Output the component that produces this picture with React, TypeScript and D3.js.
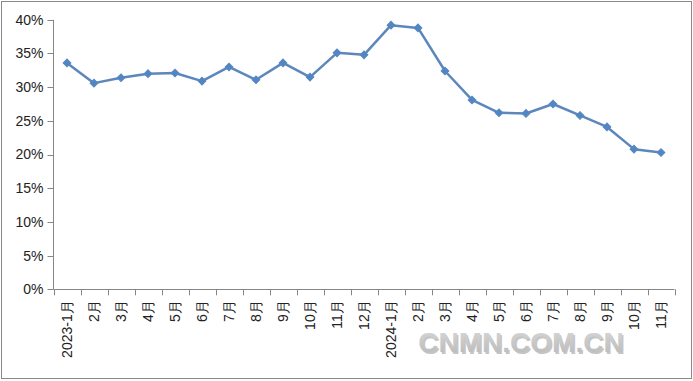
import React from "react";
import * as d3 from "d3";

const categories = [
  "2023-1月", "2月", "3月", "4月", "5月", "6月", "7月", "8月", "9月", "10月", "11月", "12月",
  "2024-1月", "2月", "3月", "4月", "5月", "6月", "7月", "8月", "9月", "10月", "11月",
];
const values = [
  33.6, 30.6, 31.4, 32.0, 32.1, 30.9, 33.0, 31.1, 33.6, 31.5, 35.1, 34.8,
  39.2, 38.8, 32.4, 28.1, 26.2, 26.1, 27.5, 25.8, 24.1, 20.8, 20.3,
];
const yTicks = [0, 5, 10, 15, 20, 25, 30, 35, 40];

const W = 693;
const H = 381;
const left = 53.5;
const right = 674.5;
const top = 19.8;
const bottom = 289.3;
const font = "'Liberation Sans', Arial, sans-serif";

export default function App() {
  const x = d3.scaleBand<string>().domain(categories.map((c, i) => String(i))).range([left, right]);
  const y = d3.scaleLinear().domain([0, 40]).range([bottom, top]);
  const cx = (i: number) => (x(String(i)) as number) + x.bandwidth() / 2;
  const line = d3
    .line<number>()
    .x((_, i) => cx(i))
    .y((d) => y(d));
  const marker = d3.symbol().type(d3.symbolSquare).size(30)();
  const tickXs = d3.range(categories.length + 1).map((i) => left + i * x.bandwidth());

  return (
    <svg width={W} height={H} style={{ position: "absolute", left: 0, top: 0 }}>
      <defs>
        <linearGradient id="wm" x1="0" y1="0" x2="0" y2="1">
          <stop offset="0" stopColor="#d8d8d8" />
          <stop offset="1" stopColor="#b8b8b8" />
        </linearGradient>
      </defs>
      <rect x={0} y={0} width={W} height={H} fill="#fff" />
      <rect x={1.5} y={1.5} width={690} height={377} fill="none" stroke="#898989" strokeWidth={1} />
      {/* y axis */}
      <line x1={left} x2={left} y1={top} y2={bottom} stroke="#868686" strokeWidth={1} />
      {yTicks.map((t) => (
        <g key={t}>
          <line x1={left - 6} x2={left} y1={Math.round(y(t)) + 0.5} y2={Math.round(y(t)) + 0.5} stroke="#868686" />
          <text
            x={left - 10}
            y={y(t)}
            dy="0.35em"
            textAnchor="end"
            fontFamily={font}
            fontSize={14}
            fill="#222"
          >
            {t}%
          </text>
        </g>
      ))}
      {/* x axis */}
      <line x1={left} x2={right} y1={Math.round(bottom) + 0.5} y2={Math.round(bottom) + 0.5} stroke="#868686" />
      {tickXs.map((tx, i) => (
        <line key={i} x1={Math.round(tx) + 0.5} x2={Math.round(tx) + 0.5} y1={bottom} y2={bottom + 6} stroke="#868686" />
      ))}
      {categories.map((c, i) => (
        <text
          key={i}
          transform={`translate(${cx(i)},${bottom + 11}) rotate(-90)`}
          textAnchor="end"
          dy="0.35em"
          fontFamily={font}
          fontSize={14}
          fill="#222"
        >
          {c}
        </text>
      ))}
      {/* series */}
      <path d={line(values) || ""} fill="none" stroke="#5b87bd" strokeWidth={2.5} strokeLinejoin="round" />
      {values.map((v, i) => (
        <path
          key={i}
          d={marker || ""}
          transform={`translate(${cx(i)},${y(v)}) rotate(45)`}
          fill="#4f86c6"
          stroke="#5b87bd"
          strokeWidth={1}
        />
      ))}
      {/* watermark */}
      <text
        x={521}
        y={352}
        textAnchor="middle"
        fontFamily="'Liberation Sans', Arial, sans-serif"
        fontWeight="bold"
        fontSize={28}
        fill="#8a8a8a"
        opacity={0.5}
        transform="translate(1.5,1.5)"
      >
        CNMN.COM.CN
      </text>
      <text
        x={521}
        y={352}
        textAnchor="middle"
        fontFamily="'Liberation Sans', Arial, sans-serif"
        fontWeight="bold"
        fontSize={28}
        fill="url(#wm)"
      >
        CNMN.COM.CN
      </text>
    </svg>
  );
}
